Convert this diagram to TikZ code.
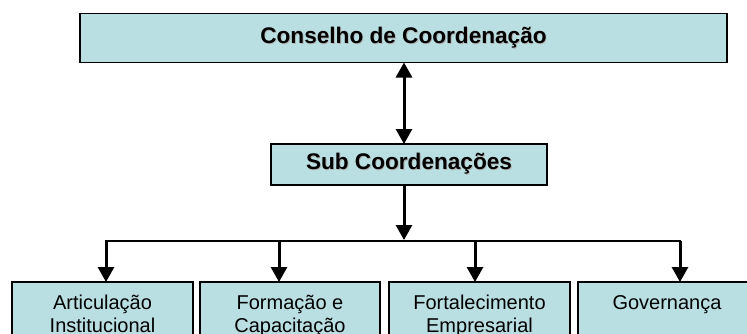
\documentclass[tikz,border=0pt]{standalone}
\usepackage{fontspec}
\setmainfont{Liberation Sans}
\usetikzlibrary{arrows.meta}
\definecolor{boxfill}{RGB}{186,223,226}
\newcommand\myshadowtext[1]{\makebox[0pt][l]{\hspace{0.9pt}\raisebox{-0.9pt}{\color{black!30}#1}}#1}
\begin{document}
\begin{tikzpicture}[x=1pt,y=-1pt,
  box/.style={draw=black, line width=1.9pt, fill=boxfill, inner sep=0pt, outer sep=0pt},
  title/.style={font=\fontsize{22.6}{26}\selectfont\bfseries},
  label/.style={anchor=base, inner sep=0pt, font=\fontsize{20}{23}\selectfont},
  conn/.style={line width=3pt, -{Triangle[width=16pt,length=15pt]}},
  dconn/.style={line width=3pt, {Triangle[width=16pt,length=15pt]}-{Triangle[width=16pt,length=15pt]}},
  hline/.style={line width=2.2pt, line cap=rect}]
\useasboundingbox (0,0) rectangle (747,333);
\clip (0,0) rectangle (747,333);
\node[box, title, minimum width=647, minimum height=49] (top) at (403.5,38) {\myshadowtext{Conselho de Coordenação}};
\node[box, title, minimum width=276, minimum height=41] (sub) at (409,164.5) {\myshadowtext{Sub Coordenações}};
\node[box, anchor=north, minimum width=181, minimum height=80] (b1) at (102.5,282) {};
\node[box, anchor=north, minimum width=180, minimum height=80] (b2) at (290,282) {};
\node[box, anchor=north, minimum width=181, minimum height=80] (b3) at (479.5,282) {};
\node[box, anchor=north, minimum width=178, minimum height=80] (b4) at (667,282) {};
\node[label] (t1) at (102.5,309) {\parbox[t]{180pt}{\centering Articulação\\Institucional}};
\node[label] (t2) at (290,309) {\parbox[t]{180pt}{\centering Formação e\\Capacitação}};
\node[label] (t3) at (479.5,309) {\parbox[t]{180pt}{\centering Fortalecimento\\Empresarial}};
\node[label] (t4) at (667,309) {\parbox[t]{180pt}{\centering Governança}};
\coordinate (s) at (404,200);
\coordinate (hm) at (404,240);
\coordinate (h1) at (106,241);
\coordinate (h2) at (279,241);
\coordinate (h3) at (475,241);
\coordinate (h4) at (680,241);
\draw[dconn] (top.south -| s) -- (sub.north -| s);
\draw[conn] (sub.south -| s) -- (hm);
\draw[hline] (h1) -- (h4);
\draw[conn] (h1) -- (h1 |- b1.north);
\draw[conn] (h2) -- (h2 |- b2.north);
\draw[conn] (h3) -- (h3 |- b3.north);
\draw[conn] (h4) -- (h4 |- b4.north);
\end{tikzpicture}
\end{document}
